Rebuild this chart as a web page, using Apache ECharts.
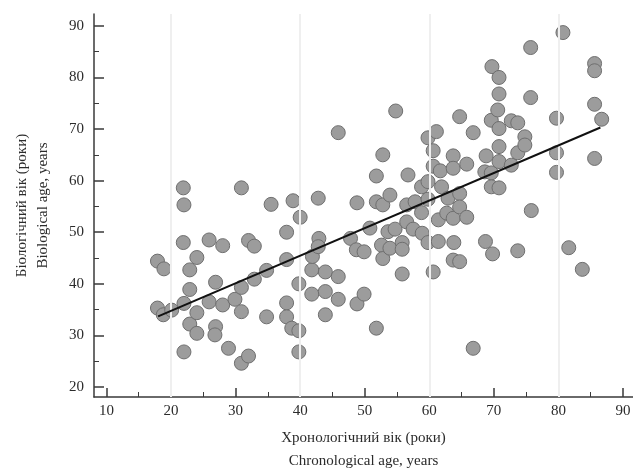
<!DOCTYPE html>
<html>
<head>
<meta charset="utf-8">
<script src="https://cdn.jsdelivr.net/npm/echarts@6/dist/echarts.min.js"></script>
<style>
html, body { margin: 0; padding: 0; background: #fff; }
#container { width: 633px; height: 473px; }
</style>
</head>
<body>
<div id="container"></div>
<script>
var dom = document.getElementById("container");
var myChart = echarts.init(dom);

// chronological age (x) and biological age (y), one person per position
var chronoAge = [
    17.9, 18.9, 17.9, 18.8, 20.1, 21.9, 22.0, 21.9, 22.0, 22.0,
    22.9, 22.9, 22.9, 24.0, 24.0, 24.0, 25.9, 25.9, 26.9, 26.9,
    26.8, 28.0, 28.0, 28.9, 29.9, 30.9, 30.9, 30.9, 30.9, 32.0,
    32.9, 32.9, 32.0, 34.8, 34.8, 35.5, 37.9, 37.9, 37.9, 37.9,
    38.7, 38.9, 39.8, 39.8, 39.8, 40.0, 41.8, 41.8, 41.9, 42.8,
    42.9, 42.8, 43.9, 43.9, 43.9, 45.9, 45.9, 45.9, 47.8, 48.7,
    48.8, 48.8, 49.9, 49.9, 50.8, 51.8, 51.8, 51.8, 52.8, 52.8,
    52.6, 52.8, 53.9, 53.9, 53.6, 54.7, 54.8, 55.8, 55.8, 55.8,
    56.5, 56.5, 56.7, 57.5, 57.8, 58.8, 58.8, 58.9, 59.8, 59.8,
    59.8, 59.8, 60.6, 60.6, 60.6, 61.1, 61.4, 61.4, 61.7, 61.9,
    62.7, 62.9, 63.7, 63.7, 63.7, 63.7, 63.8, 64.7, 64.7, 64.7,
    64.7, 65.8, 65.8, 66.8, 66.8, 68.6, 68.7, 68.8, 69.6, 69.6,
    69.6, 69.7, 69.8, 70.6, 70.8, 70.8, 70.8, 70.8, 70.8, 70.8,
    72.7, 72.7, 73.7, 73.7, 73.7, 74.8, 74.8, 75.7, 75.7, 75.8,
    79.7, 79.7, 79.7, 80.7, 81.6, 83.7, 85.6, 85.6, 85.6, 85.6,
    86.7
];
var bioAge = [
    44.4, 42.9, 35.3, 34.0, 34.9, 58.6, 55.3, 48.0, 36.2, 26.8,
    42.7, 38.9, 32.2, 45.1, 34.4, 30.4, 48.5, 36.5, 40.3, 31.7,
    30.1, 47.4, 35.9, 27.5, 37.0, 58.6, 39.3, 34.6, 24.6, 48.4,
    47.3, 40.9, 26.0, 42.6, 33.6, 55.4, 50.0, 44.7, 36.3, 33.6,
    31.4, 56.1, 40.0, 30.9, 26.8, 52.9, 42.7, 38.0, 45.3, 56.6,
    48.8, 47.2, 42.3, 38.5, 34.0, 69.3, 41.4, 37.0, 48.8, 46.6,
    55.7, 36.1, 46.2, 38.0, 50.8, 60.9, 55.9, 31.4, 65.0, 55.3,
    47.5, 44.9, 57.2, 46.9, 50.1, 50.6, 73.5, 48.0, 46.7, 41.9,
    55.3, 52.0, 61.1, 50.6, 55.9, 58.8, 53.8, 49.8, 68.3, 59.8,
    56.4, 48.0, 65.8, 62.8, 42.3, 69.5, 52.4, 48.2, 61.9, 58.8,
    53.7, 56.6, 64.8, 62.4, 52.7, 44.6, 48.0, 72.4, 57.5, 54.9,
    44.3, 63.2, 52.9, 69.3, 27.5, 61.7, 48.2, 64.8, 71.7, 61.5,
    58.8, 82.1, 45.8, 73.7, 80.0, 76.8, 70.1, 66.6, 63.7, 58.6,
    71.6, 63.0, 71.2, 65.4, 46.4, 68.5, 66.9, 85.8, 76.1, 54.2,
    72.1, 65.4, 61.6, 88.7, 47.0, 42.8, 82.7, 81.3, 74.8, 64.3,
    71.9
];

// fitted regression line, start and end
var fitX = [18.0, 86.5];
var fitY = [33.7, 70.3];

var xTicks = [10, 20, 30, 40, 50, 60, 70, 80, 90];
var xMinorTicks = [15, 25, 35, 45, 55, 65, 75, 85];
var yTicks = [20, 30, 40, 50, 60, 70, 80, 90];
var yMinorTicks = [25, 35, 45, 55, 65, 75, 85];
var xGridLines = [20, 40, 60, 80];

var points = chronoAge.map(function (x, i) { return [x, bioAge[i]]; });
var fitLine = fitX.map(function (x, i) { return [x, fitY[i]]; });

var serif = 'Liberation Serif';
var textColor = '#2b2b2b';
var axisColor = '#3a3a3a';

option = {
    backgroundColor: '#ffffff',
    animation: false,
    grid: {
        left: 94,
        top: 14,
        right: 0,
        bottom: 76,
        containLabel: false,
        outerBoundsMode: 'none'
    },
    xAxis: [
        {
            type: 'value',
            min: 8.07,
            max: 91.55,
            position: 'bottom',
            name: 'Хронологічний вік (роки)\nChronological age, years',
            nameLocation: 'middle',
            nameGap: 30,
            nameTextStyle: {
                fontFamily: serif,
                fontSize: 15,
                color: textColor,
                lineHeight: 23
            },
            axisLine: { lineStyle: { color: axisColor, width: 1.5 } },
            axisTick: {
                inside: true,
                length: 9,
                customValues: xTicks,
                lineStyle: { color: axisColor, width: 1.5 }
            },
            axisLabel: {
                customValues: xTicks,
                margin: 7,
                fontFamily: serif,
                fontSize: 15,
                color: textColor
            },
            splitLine: { show: false }
        },
        {
            type: 'value',
            min: 8.07,
            max: 91.55,
            position: 'bottom',
            axisLine: { show: false },
            axisTick: {
                inside: true,
                length: 5,
                customValues: xMinorTicks,
                lineStyle: { color: axisColor, width: 1 }
            },
            axisLabel: { show: false },
            splitLine: { show: false }
        }
    ],
    yAxis: [
        {
            type: 'value',
            min: 18.06,
            max: 92.3,
            position: 'left',
            name: 'Біологічний вік (роки)\nBiological age, years',
            nameLocation: 'middle',
            nameGap: 40,
            nameTextStyle: {
                fontFamily: serif,
                fontSize: 15,
                color: textColor,
                lineHeight: 21
            },
            axisLine: { lineStyle: { color: axisColor, width: 1.5 } },
            axisTick: {
                inside: true,
                length: 10,
                customValues: yTicks,
                lineStyle: { color: axisColor, width: 1.5 }
            },
            axisLabel: {
                customValues: yTicks,
                margin: 10,
                fontFamily: serif,
                fontSize: 15,
                color: textColor
            },
            splitLine: { show: false }
        },
        {
            type: 'value',
            min: 18.06,
            max: 92.3,
            position: 'left',
            axisLine: { show: false },
            axisTick: {
                inside: true,
                length: 5,
                customValues: yMinorTicks,
                lineStyle: { color: axisColor, width: 1 }
            },
            axisLabel: { show: false },
            splitLine: { show: false }
        }
    ],
    series: [
        {
            // faint vertical guide lines of the scanned figure
            type: 'scatter',
            data: [],
            z: 1,
            silent: true,
            markLine: {
                silent: true,
                symbol: ['none', 'none'],
                label: { show: false },
                lineStyle: { color: '#efefef', type: 'solid', width: 2 },
                data: xGridLines.map(function (v) { return { xAxis: v }; })
            }
        },
        {
            name: 'age',
            type: 'scatter',
            data: points,
            z: 3,
            symbol: 'circle',
            symbolSize: 14,
            itemStyle: {
                color: '#9c9c9c',
                borderColor: '#6f6f6f',
                borderWidth: 1,
                opacity: 1
            }
        },
        {
            name: 'fit',
            type: 'line',
            data: fitLine,
            z: 5,
            symbol: 'none',
            lineStyle: { color: '#111111', width: 2 }
        }
    ]
};

if (option && typeof option === "object") {
    myChart.setOption(option, true);
}
</script>
</body>
</html>
